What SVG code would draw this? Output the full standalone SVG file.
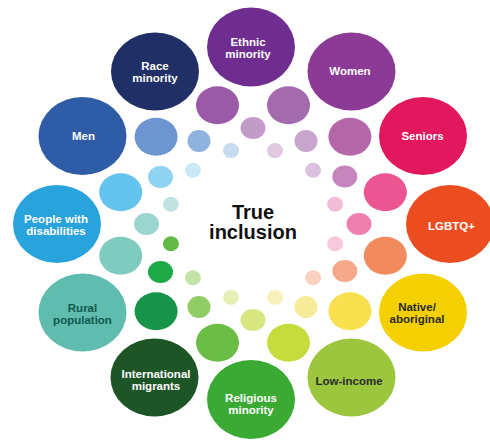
<svg xmlns="http://www.w3.org/2000/svg" width="490" height="441" viewBox="0 0 490 441">
<style>
.lbl{font-family:"Liberation Sans",Arial,sans-serif;font-weight:bold;font-size:11.5px;text-anchor:middle;fill:#ffffff}
.dk{fill:#2b2b2b}
.title{font-family:"Liberation Sans",Arial,sans-serif;font-weight:bold;font-size:20px;text-anchor:middle;fill:#111111}
</style>
<rect width="490" height="441" fill="#ffffff"/>
<g id="dots">
<g id="ringA">
<ellipse cx="217.5" cy="105.2" rx="21.5" ry="19" fill="#9b5aa7"/>
<ellipse cx="288.5" cy="105.2" rx="21.5" ry="19" fill="#a36aae"/>
<ellipse cx="349.9" cy="136.7" rx="21.5" ry="19" fill="#b466a9"/>
<ellipse cx="385.3" cy="192.2" rx="21.5" ry="19" fill="#ea5592"/>
<ellipse cx="385.3" cy="255.8" rx="21.5" ry="19" fill="#f18a5c"/>
<ellipse cx="349.9" cy="311.3" rx="21.5" ry="19" fill="#f9e04e"/>
<ellipse cx="288.5" cy="342.8" rx="21.5" ry="19" fill="#c6dc3c"/>
<ellipse cx="217.5" cy="342.8" rx="21.5" ry="19" fill="#6cbd45"/>
<ellipse cx="156.1" cy="311.3" rx="21.5" ry="19" fill="#18934a"/>
<ellipse cx="120.7" cy="255.8" rx="21.5" ry="19" fill="#80cbc0"/>
<ellipse cx="120.7" cy="192.2" rx="21.5" ry="19" fill="#64c4ee"/>
<ellipse cx="156.1" cy="136.7" rx="21.5" ry="19" fill="#6d95d0"/>
</g>
<g id="ringB">
<ellipse cx="253" cy="128" rx="12.5" ry="11" fill="#c39bc9"/>
<ellipse cx="306" cy="141" rx="11.5" ry="11" fill="#c8a5cc"/>
<ellipse cx="344.8" cy="176.5" rx="12.5" ry="11" fill="#c785bd"/>
<ellipse cx="359" cy="224" rx="12.5" ry="11" fill="#ef7fae"/>
<ellipse cx="344.8" cy="271" rx="12.5" ry="11" fill="#f6a98a"/>
<ellipse cx="306" cy="307" rx="11.5" ry="11" fill="#f7ec9a"/>
<ellipse cx="253" cy="320" rx="12.5" ry="11" fill="#d8e680"/>
<ellipse cx="199" cy="307" rx="11.5" ry="11" fill="#92cc64"/>
<ellipse cx="160.5" cy="272" rx="12.5" ry="11" fill="#1faa4a"/>
<ellipse cx="146.5" cy="224" rx="12.5" ry="11" fill="#9bd5cf"/>
<ellipse cx="160.5" cy="177" rx="12.5" ry="11" fill="#8fd3f2"/>
<ellipse cx="199" cy="141" rx="11.5" ry="11" fill="#8fb2de"/>
</g>
<g id="ringC">
<ellipse cx="275" cy="150.6" rx="8" ry="7.5" fill="#e0c8e2"/>
<ellipse cx="313.1" cy="170.3" rx="8" ry="7.5" fill="#dcc0df"/>
<ellipse cx="335.1" cy="204.3" rx="8" ry="7.5" fill="#f3bcd6"/>
<ellipse cx="335.1" cy="243.7" rx="8" ry="7.5" fill="#f8c8dc"/>
<ellipse cx="313.1" cy="277.7" rx="8" ry="7.5" fill="#fbd0bf"/>
<ellipse cx="275" cy="297.4" rx="8" ry="7.5" fill="#f8f0b8"/>
<ellipse cx="231" cy="297.4" rx="8" ry="7.5" fill="#e6efb5"/>
<ellipse cx="192.9" cy="277.7" rx="8" ry="7.5" fill="#c5e3a8"/>
<ellipse cx="170.9" cy="243.7" rx="8" ry="7.5" fill="#62b946"/>
<ellipse cx="170.9" cy="204.3" rx="8" ry="7.5" fill="#c2e4e0"/>
<ellipse cx="192.9" cy="170.3" rx="8" ry="7.5" fill="#c9e9f8"/>
<ellipse cx="231" cy="150.6" rx="8" ry="7.5" fill="#c7dbf0"/>
</g>
</g>
<g id="title"><text class="title" x="253" y="219">True</text><text class="title" x="253" y="239">inclusion</text></g>
<g id="ethnic-minority"><ellipse cx="251" cy="47" rx="44" ry="39.5" fill="#6e2d8f"/><text class="lbl" x="248" y="45.5">Ethnic</text><text class="lbl" x="248" y="57.5">minority</text></g>
<g id="women"><ellipse cx="351.5" cy="71.5" rx="44" ry="39" fill="#8b3a96"/><text class="lbl" x="350" y="74.5">Women</text></g>
<g id="seniors"><ellipse cx="423" cy="136" rx="44" ry="39" fill="#e2175d"/><text class="lbl" x="422.5" y="139.5">Seniors</text></g>
<g id="lgbtq"><ellipse cx="450" cy="224" rx="44" ry="39" fill="#eb4d21"/><text class="lbl" x="451.5" y="230">LGBTQ+</text></g>
<g id="native-aboriginal"><ellipse cx="423" cy="312.5" rx="44" ry="39" fill="#f5d000"/><text class="lbl dk" x="417" y="311">Native/</text><text class="lbl dk" x="417" y="322.5">aboriginal</text></g>
<g id="low-income"><ellipse cx="351.5" cy="377.5" rx="44" ry="39" fill="#9cc63d"/><text class="lbl dk" x="349" y="385">Low-income</text></g>
<g id="religious-minority"><ellipse cx="251" cy="399.5" rx="44" ry="39.5" fill="#3aaa35"/><text class="lbl" x="251" y="402">Religious</text><text class="lbl" x="251" y="413.5">minority</text></g>
<g id="international-migrants"><ellipse cx="154.5" cy="377.5" rx="44" ry="39" fill="#1d5527"/><text class="lbl" x="156" y="378">International</text><text class="lbl" x="156" y="389.5">migrants</text></g>
<g id="rural-population"><ellipse cx="82.5" cy="312.5" rx="44" ry="39" fill="#5fbcae"/><text class="lbl" x="82.5" y="312" fill="#0f5a4f" style="fill:#0f5a4f">Rural</text><text class="lbl" x="82.5" y="323.5" style="fill:#0f5a4f">population</text></g>
<g id="people-with-disabilities"><ellipse cx="57" cy="224" rx="44" ry="39" fill="#29a3dc"/><text class="lbl" x="56" y="222.5">People with</text><text class="lbl" x="56" y="235">disabilities</text></g>
<g id="men"><ellipse cx="82.5" cy="136" rx="44" ry="39" fill="#2f5ca6"/><text class="lbl" x="83.5" y="140">Men</text></g>
<g id="race-minority"><ellipse cx="155" cy="71.5" rx="44" ry="39" fill="#203066"/><text class="lbl" x="155" y="70">Race</text><text class="lbl" x="155" y="81.5">minority</text></g>
</svg>
